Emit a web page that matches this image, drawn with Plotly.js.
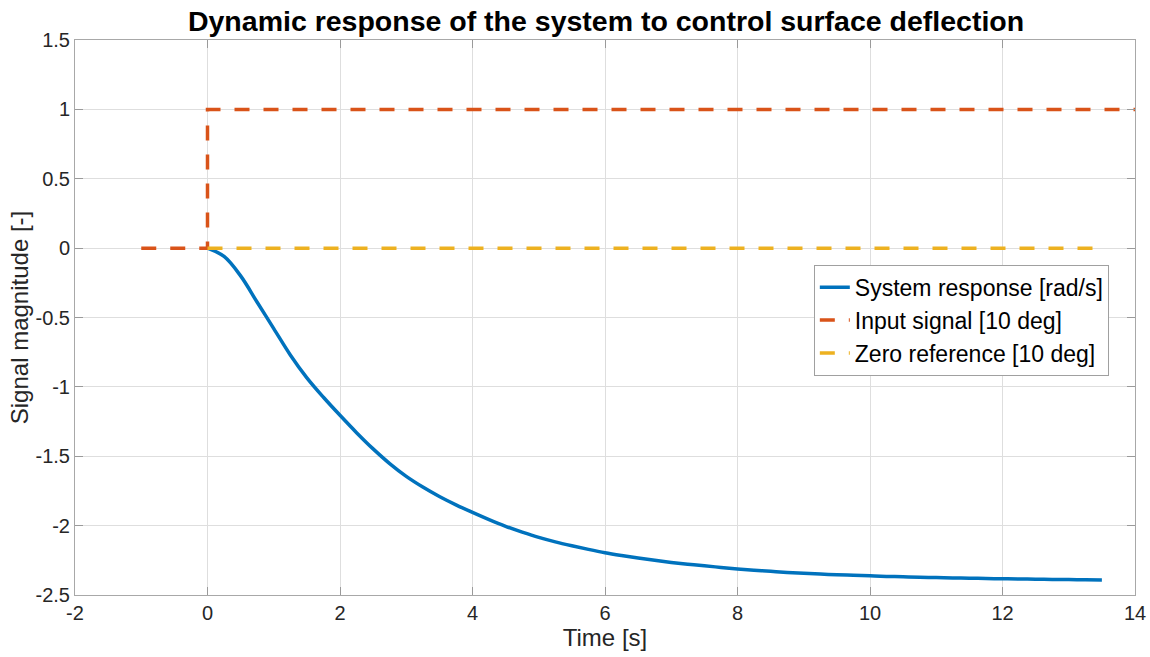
<!DOCTYPE html>
<html>
<head>
<meta charset="utf-8">
<script src="https://cdn.plot.ly/plotly-3.0.1.min.js"></script>
<style>html,body{margin:0;padding:0;background:#fff;}#chart{width:1150px;height:657px;}</style>
</head>
<body>
<div id="chart"></div>
<script>
var respTime = [0, 0.25, 0.5, 0.75, 1, 1.25, 1.5, 1.75, 2, 2.25, 2.5, 2.75, 3, 3.25, 3.5, 3.75, 4, 4.25, 4.5, 4.75, 5, 5.25, 5.5, 5.75, 6, 6.25, 6.5, 6.75, 7, 7.25, 7.5, 7.75, 8, 8.25, 8.5, 8.75, 9, 9.25, 9.5, 9.75, 10, 10.25, 10.5, 10.75, 11, 11.25, 11.5, 11.75, 12, 12.25, 12.5, 12.75, 13, 13.25, 13.5];
var respValue = [0, -0.06, -0.2, -0.39, -0.58, -0.77, -0.935, -1.075, -1.205, -1.33, -1.447, -1.553, -1.645, -1.722, -1.79, -1.85, -1.905, -1.957, -2.005, -2.047, -2.085, -2.117, -2.145, -2.171, -2.195, -2.215, -2.233, -2.25, -2.265, -2.278, -2.29, -2.301, -2.312, -2.321, -2.329, -2.337, -2.344, -2.349, -2.354, -2.358, -2.362, -2.366, -2.369, -2.372, -2.374, -2.377, -2.379, -2.381, -2.383, -2.385, -2.386, -2.388, -2.389, -2.39, -2.391];
var inputTime = [-1, 0, 0, 14];
var inputValue = [0, 0, 1, 1];
var zeroTime = [0, 13.5];
var zeroValue = [0, 0];
var xTicks = [-2, 0, 2, 4, 6, 8, 10, 12, 14];
var yTicks = [-2.5, -2, -1.5, -1, -0.5, 0, 0.5, 1, 1.5];

var fontFam = 'Liberation Sans, Arial, sans-serif';
var traces = [
  {x: respTime, y: respValue, mode: 'lines', name: 'System response [rad/s]',
   line: {color: '#0072BD', width: 3.5, shape: 'spline', smoothing: 1}},
  {x: inputTime, y: inputValue, mode: 'lines', name: 'Input signal [10 deg]',
   line: {color: '#D95319', width: 3.5, dash: '15px,14px'}},
  {x: zeroTime, y: zeroValue, mode: 'lines', name: 'Zero reference [10 deg]',
   line: {color: '#EDB120', width: 3.5, dash: '15px,14px'}}
];
var axisCommon = {
  showgrid: true, gridcolor: '#dedede', gridwidth: 1,
  showline: true, linecolor: '#a8a8a8', linewidth: 1, mirror: 'ticks',
  ticks: 'inside', ticklen: 8, tickcolor: '#9a9a9a',
  zeroline: false, tickfont: {family: fontFam, size: 20, color: '#262626'}
};
var layout = {
  width: 1150, height: 657,
  margin: {l: 75, r: 15, t: 40, b: 62},
  paper_bgcolor: '#fff', plot_bgcolor: '#fff',
  title: {text: '<b>Dynamic response of the system to control surface deflection</b>',
          font: {family: fontFam, size: 28.5, color: '#000'}, x: 0.527, xanchor: 'center', y: 0.968, yanchor: 'middle'},
  xaxis: Object.assign({}, axisCommon, {range: [-2, 14], tickvals: xTicks, ticktext: xTicks.map(String),
    title: {text: 'Time [s]', font: {family: fontFam, size: 24, color: '#262626'}, standoff: 4}}),
  yaxis: Object.assign({}, axisCommon, {range: [-2.5, 1.5], tickvals: yTicks, ticktext: yTicks.map(String),
    title: {text: 'Signal magnitude [-]', font: {family: fontFam, size: 24, color: '#262626'}, standoff: 0}}),
  legend: {x: 0.697, y: 0.595, xanchor: 'left', yanchor: 'top', bgcolor: '#fff',
    bordercolor: '#a0a0a0', borderwidth: 1, font: {family: fontFam, size: 23, color: '#000'},
    itemwidth: 30, tracegroupgap: 0},
  showlegend: true
};
Plotly.newPlot('chart', traces, layout, {staticPlot: true, displayModeBar: false});
</script>
</body>
</html>
